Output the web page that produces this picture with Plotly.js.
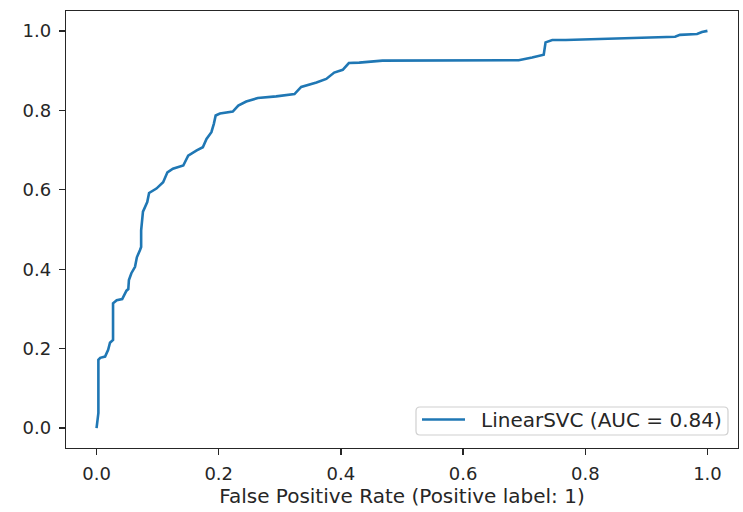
<!DOCTYPE html>
<html>
<head>
<meta charset="utf-8">
<script src="https://cdn.plot.ly/plotly-3.0.1.min.js"></script>
<style>
  html, body { margin: 0; padding: 0; background: #ffffff; }
  #chart { width: 743px; height: 512px; }
</style>
</head>
<body>
<div id="chart"></div>
<script>
// ROC curve points for the LinearSVC classifier
const fpr = [0.000, 0.002, 0.003, 0.003, 0.003, 0.006, 0.014, 0.019, 0.022, 0.027, 0.027,
  0.033, 0.042, 0.049, 0.052, 0.053, 0.057, 0.063, 0.066, 0.071, 0.073, 0.073, 0.076,
  0.083, 0.086, 0.098, 0.109, 0.116, 0.125, 0.142, 0.150, 0.164, 0.174, 0.180, 0.188,
  0.192, 0.195, 0.202, 0.223, 0.232, 0.245, 0.264, 0.294, 0.324, 0.335, 0.360, 0.376,
  0.389, 0.403, 0.413, 0.430, 0.468, 0.604, 0.691, 0.713, 0.732, 0.735, 0.746, 0.768,
  0.876, 0.947, 0.955, 0.983, 0.991, 0.997, 1.000];
const tpr = [0.000, 0.030, 0.038, 0.120, 0.172, 0.177, 0.180, 0.197, 0.215, 0.222, 0.314,
  0.322, 0.325, 0.346, 0.350, 0.373, 0.390, 0.406, 0.430, 0.448, 0.456, 0.498, 0.545,
  0.569, 0.592, 0.603, 0.619, 0.644, 0.653, 0.661, 0.686, 0.699, 0.707, 0.728, 0.745,
  0.766, 0.787, 0.792, 0.797, 0.812, 0.822, 0.831, 0.835, 0.841, 0.859, 0.870, 0.879,
  0.895, 0.902, 0.919, 0.920, 0.925, 0.926, 0.926, 0.933, 0.940, 0.971, 0.977, 0.977,
  0.982, 0.985, 0.990, 0.992, 0.997, 1.000, 1.000];

const seriesName = 'LinearSVC (AUC = 0.84)';
const xTitle = 'False Positive Rate (Positive label: 1)';
const tickVals = [0.0, 0.2, 0.4, 0.6, 0.8, 1.0];
const tickText = ['0.0', '0.2', '0.4', '0.6', '0.8', '1.0'];

const font = 'DejaVu Sans, sans-serif';
const ink = '#262626';
const lineColor = '#1f77b4';

const W = 743, H = 512;
const M = { l: 66, r: 5, t: 11, b: 64 };
const PW = W - M.l - M.r, PH = H - M.t - M.b;
// pixel position inside the figure -> paper fraction
const px = v => (v - M.l) / PW;
const py = v => (H - M.b - v) / PH;

const axisCommon = {
  range: [-0.05, 1.05],
  tickvals: tickVals,
  ticktext: tickText,
  ticks: 'outside',
  ticklen: 6,
  tickwidth: 1.3,
  tickcolor: ink,
  showline: true,
  linecolor: ink,
  linewidth: 1.3,
  mirror: true,
  showgrid: false,
  zeroline: false,
  tickfont: { family: font, size: 18, color: ink },
  fixedrange: true
};

const trace = {
  x: fpr,
  y: tpr,
  type: 'scatter',
  mode: 'lines',
  name: seriesName,
  line: { color: lineColor, width: 2.6 },
  showlegend: false
};

// legend frame with rounded corners, in figure pixels
function roundedBox(x0, y0, x1, y1, r) {
  const rx = r / PW, ry = r / PH;
  const L = px(x0), R = px(x1), T = py(y0), B = py(y1);
  return `M ${L + rx},${T} L ${R - rx},${T} Q ${R},${T} ${R},${T - ry} ` +
         `L ${R},${B + ry} Q ${R},${B} ${R - rx},${B} ` +
         `L ${L + rx},${B} Q ${L},${B} ${L},${B + ry} ` +
         `L ${L},${T - ry} Q ${L},${T} ${L + rx},${T} Z`;
}

const legendShapes = [
  {
    type: 'path', xref: 'paper', yref: 'paper',
    path: roundedBox(416, 407, 728, 435, 4),
    line: { color: '#d0d0d0', width: 1.2 },
    fillcolor: 'rgba(255,255,255,0.8)'
  },
  {
    type: 'line', xref: 'paper', yref: 'paper',
    x0: px(422), x1: px(465), y0: py(419.5), y1: py(419.5),
    line: { color: lineColor, width: 2.6 }
  }
];

const legendText = {
  xref: 'paper', yref: 'paper',
  x: px(479), y: py(420),
  xanchor: 'left', yanchor: 'middle',
  text: seriesName,
  showarrow: false,
  font: { family: font, size: 20, color: ink }
};

const layout = {
  width: W,
  height: H,
  margin: M,
  paper_bgcolor: '#ffffff',
  plot_bgcolor: '#ffffff',
  font: { family: font, size: 18, color: ink },
  xaxis: Object.assign({}, axisCommon, {
    title: { text: xTitle, font: { family: font, size: 20, color: ink }, standoff: 6 },
    ticklabelstandoff: 3
  }),
  yaxis: Object.assign({}, axisCommon, {
    ticklabelstandoff: 4
  }),
  showlegend: false,
  shapes: legendShapes,
  annotations: [legendText]
};

Plotly.newPlot('chart', [trace], layout, { displayModeBar: false, staticPlot: true });
</script>
</body>
</html>
